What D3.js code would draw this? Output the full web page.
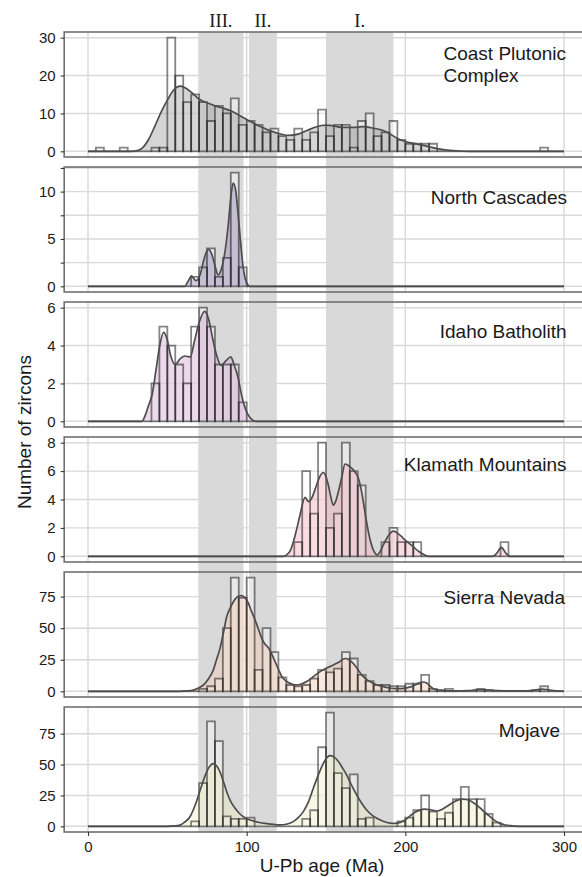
<!DOCTYPE html>
<html>
<head>
<meta charset="utf-8">
<script src="https://cdn.jsdelivr.net/npm/d3@7"></script>
<style>
  body { margin: 0; background: #fff; }
  svg { display: block; font-family: "Liberation Sans", Arial, sans-serif; }
</style>
</head>
<body>
<svg id="chart"></svg>
<script>
// ---- data ----
const regionNames = ["Coast Plutonic\nComplex", "North Cascades", "Idaho Batholith",
                     "Klamath Mountains", "Sierra Nevada", "Mojave"];

// zircon counts in 5 Ma bins, 0-300 Ma (10 bins per row = 50 Ma)
const countsCoast = [
  0, 1, 0, 0, 1, 0, 0, 0, 1, 1,
  30, 20, 13, 15, 13, 8, 12, 10, 14, 7,
  8, 7, 5, 6, 4, 3, 6, 3, 5, 11,
  4, 7, 7, 1, 8, 10, 4, 5, 8, 3,
  2, 2, 2, 2, 0, 0, 0, 0, 0, 0,
  0, 0, 0, 0, 0, 0, 0, 1, 0, 0];
const countsCascades = [
  0, 0, 0, 0, 0, 0, 0, 0, 0, 0,
  0, 0, 0, 1, 2, 4, 1, 3, 12, 2,
  0, 0, 0, 0, 0, 0, 0, 0, 0, 0,
  0, 0, 0, 0, 0, 0, 0, 0, 0, 0,
  0, 0, 0, 0, 0, 0, 0, 0, 0, 0,
  0, 0, 0, 0, 0, 0, 0, 0, 0, 0];
const countsIdaho = [
  0, 0, 0, 0, 0, 0, 0, 0, 2, 5,
  4, 3, 2, 5, 6, 5, 3, 3, 3, 1,
  0, 0, 0, 0, 0, 0, 0, 0, 0, 0,
  0, 0, 0, 0, 0, 0, 0, 0, 0, 0,
  0, 0, 0, 0, 0, 0, 0, 0, 0, 0,
  0, 0, 0, 0, 0, 0, 0, 0, 0, 0];
const countsKlamath = [
  0, 0, 0, 0, 0, 0, 0, 0, 0, 0,
  0, 0, 0, 0, 0, 0, 0, 0, 0, 0,
  0, 0, 0, 0, 0, 0, 1, 6, 3, 8,
  2, 3, 8, 6, 5, 0, 0, 1, 2, 1,
  1, 1, 0, 0, 0, 0, 0, 0, 0, 0,
  0, 0, 1, 0, 0, 0, 0, 0, 0, 0];
const countsSierra = [
  0, 0, 0, 0, 0, 0, 0, 0, 0, 0,
  0, 0, 0, 0, 2, 4, 10, 50, 90, 74,
  90, 17, 50, 31, 11, 5, 4, 5, 10, 17,
  15, 18, 31, 26, 13, 8, 5, 5, 4, 4,
  6, 6, 13, 2, 1, 2, 0, 0, 0, 2,
  1, 0, 0, 0, 0, 0, 1, 4, 0, 0];
const countsMojave = [
  0, 0, 0, 0, 0, 0, 0, 0, 0, 0,
  0, 0, 0, 4, 35, 85, 69, 8, 6, 6,
  7, 0, 0, 0, 0, 0, 0, 6, 13, 64,
  92, 43, 31, 42, 6, 7, 0, 0, 0, 4,
  7, 13, 25, 12, 6, 11, 22, 32, 22, 22,
  10, 3, 0, 0, 0, 0, 0, 0, 0, 0];

// density curves scaled to counts: [age, value]
const densCoast = [[0,0],[28,0],[31,0.2],[34,0.8],[38,3],[42,6.5],[46,10.3],[50,13.5],[54,16.2],[58,17.2],
  [62,16.6],[66,15.3],[70,13.8],[75,12.8],[80,12],[85,11.4],[90,10.7],[95,9.6],[100,8.4],[105,7.3],
  [110,6.3],[115,5.4],[120,4.7],[127,4.2],[133,4.6],[138,5.5],[144,6.5],[150,6.9],[155,6.7],[160,6.3],
  [167,6.3],[173,6.5],[180,6.1],[186,5.5],[190,4.7],[195,3.4],[200,2.6],[205,2.1],[210,1.7],[215,1.2],
  [220,0.7],[225,0.4],[232,0.15],[240,0],[300,0]];
const densCascades = [[0,0],[61,0],[63,0.5],[65.3,1.1],[68,0.6],[70.6,1.2],[73,2.8],[75.8,3.9],[78,3.4],
  [80,2.2],[82,1.2],[84,1.8],[86,3.3],[88.4,6.5],[90,9.4],[91.5,10.9],[93,10.2],[94.5,7.8],[96,5],
  [97.5,2.4],[99,0.85],[101,0.1],[102,0],[300,0]];
const densIdaho = [[0,0],[34,0],[36,0.3],[38,0.8],[40.4,1.4],[43,2.8],[45,3.9],[47.6,4.7],[50,4.3],[52,3.5],
  [55,3.0],[58,3.3],[61,3.45],[64.5,3.4],[67,4.2],[70,5.2],[73.5,5.8],[76,5.4],[78.5,4.4],[81,3.5],
  [83.8,2.95],[87,3.2],[90,3.4],[92,3.0],[94.6,2.3],[96.5,1.5],[98.4,0.86],[100.5,0.4],[103,0.12],
  [106,0],[300,0]];
const densKlamath = [[0,0],[123,0],[125.2,0.1],[127.5,0.4],[129.4,1],[131.5,1.9],[133.6,2.9],[136.8,4.15],
  [139,3.85],[141,4.1],[143.7,4.9],[146,5.6],[148.3,5.9],[150,5.6],[151.5,5],[153,4.2],[154.6,3.6],
  [156.2,3.9],[157.8,4.55],[160,5.6],[162,6.5],[164,6.4],[166.2,6.2],[168.5,5.9],[170.4,5.5],[172,4.8],
  [173.5,3.85],[175,2.8],[176.7,1.74],[178.3,0.95],[179.8,0.45],[182.3,0.1],[184,0.3],[186.1,0.8],
  [189,1.4],[192.4,1.78],[195.5,1.6],[198.7,1.27],[202,0.95],[205,0.68],[208,0.38],[211.3,0.14],
  [214.5,0],[255,0],[257.5,0.2],[260.5,0.63],[263.5,0.2],[266,0],[300,0]];
const densSierra = [[0,0],[58,0],[62,0.3],[66.4,1],[70,2.8],[72.7,5],[76,10],[79,17],[81,25],[83.2,34],
  [85.3,46],[87.4,59],[90,67],[92.7,73],[95,75.5],[96.9,75.8],[99,74],[101,70],[103,63.5],[105.3,56.5],
  [107.5,49],[109.5,42],[111.5,37.5],[113.7,34.5],[115.8,29.5],[117.9,23.5],[120,17.5],[122,12],
  [124.5,8.5],[127.3,6.3],[131.5,5],[134.5,5.8],[137.8,7.7],[142,11.5],[146.2,15.6],[150,18.2],
  [154.6,20.8],[158,23],[162,26],[164.5,25],[167.2,22],[170,17.5],[172.5,13],[175.5,9.5],[178.8,6.9],
  [182,5],[186.2,3.7],[190,2.6],[194,2.1],[198,2.2],[201.5,2.9],[205,4.3],[208,6.3],[211,7.4],
  [213.5,6.5],[215.5,4.2],[217.7,2],[220,1],[224,0.5],[230,0.3],[240,0.5],[247,1.4],[252,0.9],
  [258,0.5],[265,0.3],[275,0.3],[280,0.7],[286,1.8],[291,1],[296,0.3],[300,0.1]];
const densMojave = [[0,0],[50,0],[54,0.3],[58,1],[61,3.5],[64.3,7.8],[67.5,17],[70.6,29],[72.7,37],
  [74.8,44],[77,49],[79,50.7],[81,49],[83.2,44],[85.3,36.5],[87.4,28],[90,20],[92.7,14.6],[95.3,10.6],
  [97.9,7.8],[101,5.7],[104.2,4.3],[108,3.1],[112.6,2.2],[117,1.5],[121,1.1],[125,1.7],[129.4,3.8],
  [132.5,7],[135.7,11.9],[139,20],[142,30.8],[145,41],[148.3,51],[150.5,55.5],[152.5,57.2],[155,56.2],
  [157.8,52.4],[160.5,47],[163,41.6],[166,33.5],[169.3,25.4],[172.5,18.7],[175.6,13.2],[178.8,9.3],
  [182,6.5],[186,4.1],[190.4,2.6],[193.5,2.4],[196.7,3.2],[200,5.3],[203,8.5],[205,10.5],[208.5,12.9],
  [212.4,14],[216,13.4],[219.8,12.4],[223,13.6],[226,16],[230,19.3],[233,21.2],[236.6,22],[240,21.3],
  [243,19],[245,17.3],[249,12.6],[253.4,7.8],[256.5,4.6],[259.7,2.4],[263,1.1],[266,0.5],[272,0],[300,0]];

const yTicks = [[0, 10, 20, 30], [0, 2.5, 5, 7.5, 10, 12.5], [0, 2, 4, 6],
                [0, 2, 4, 6, 8], [0, 25, 50, 75], [0, 25, 50, 75]];
const xTicks = [0, 100, 200, 300];

// magmatic flare-up windows (Ma)
const periodNames = ["III.", "II.", "I."];
const periodStart = [69.5, 101.5, 150];
const periodEnd = [98, 119, 192.5];

const binWidth = 5;
const countsList = [countsCoast, countsCascades, countsIdaho, countsKlamath, countsSierra, countsMojave];
const densList = [densCoast, densCascades, densIdaho, densKlamath, densSierra, densMojave];
const fillColors = ["#9a9a9a", "#9483b6", "#d2a6d2", "#f0a9ba", "#f3c6ad", "#ecebc4"];

// ---- layout ----
const W = 582, H = 877;
const plotL = 64.2, plotR = 587.8;
const top0 = 32, panelH = 125, step = 135;
const labelRight = [566, 567, 566.5, 566.5, 565, 560];
const labelDy = [28, 37.3, 36.3, 33.7, 32.3, 30.3];

const svg = d3.select("#chart").attr("width", W).attr("height", H);

const x = d3.scaleLinear().domain([-15, 315]).range([plotL, plotR]);

const gridLayer = svg.append("g");
const shadeLayer = svg.append("g");
const markLayer = svg.append("g");

const bottom = top0 + step * 5 + panelH;

regionNames.forEach((name, i) => {
  const counts = countsList[i];
  const top = top0 + step * i;
  const maxC = d3.max(counts);
  const y = d3.scaleLinear()
              .domain([-0.05 * maxC, 1.05 * maxC])
              .range([top + panelH, top]);

  // grid
  gridLayer.selectAll(null)
    .data(yTicks[i]).enter().append("line")
    .attr("x1", plotL).attr("x2", plotR)
    .attr("y1", d => y(d)).attr("y2", d => y(d))
    .attr("stroke", "#d9d9d9").attr("stroke-width", 1.4);
  gridLayer.selectAll(null)
    .data(xTicks).enter().append("line")
    .attr("x1", d => x(d)).attr("x2", d => x(d))
    .attr("y1", top).attr("y2", top + panelH)
    .attr("stroke", "#d9d9d9").attr("stroke-width", 1.4);

  const g = markLayer.append("g");
  const bins = counts.map((c, k) => ({ x0: k * binWidth, x1: (k + 1) * binWidth, c }));
  const barPath = d => `M${x(d.x0)},${y(0)}V${y(d.c)}H${x(d.x1)}V${y(0)}Z`;

  g.selectAll(".barfill")
    .data(bins.filter(d => d.c > 0)).enter().append("path")
    .attr("d", barPath)
    .attr("fill", "#fff").attr("fill-opacity", 0.4).attr("stroke", "none");

  const area = d3.area()
                 .x(d => x(d[0]))
                 .y0(y(0))
                 .y1(d => y(d[1]))
                 .curve(d3.curveMonotoneX);
  const line = d3.line()
                 .x(d => x(d[0]))
                 .y(d => y(d[1]))
                 .curve(d3.curveMonotoneX);

  g.append("path")
   .datum(densList[i])
   .attr("d", area)
   .attr("fill", fillColors[i])
   .attr("fill-opacity", 0.42);

  g.selectAll(".barline")
    .data(bins).enter().append("path")
    .attr("d", barPath)
    .attr("fill", "none")
    .attr("stroke", "#000").attr("stroke-opacity", 0.48)
    .attr("stroke-width", 1.8);

  g.append("path")
   .datum(densList[i])
   .attr("d", line)
   .attr("fill", "none")
   .attr("stroke", "#4d4d4d")
   .attr("stroke-width", 1.7);

  // border
  g.append("rect")
   .attr("x", plotL).attr("y", top)
   .attr("width", plotR - plotL).attr("height", panelH)
   .attr("fill", "none").attr("stroke", "#707070").attr("stroke-width", 1.6);

  // y axis
  const yAxis = g.append("g")
    .attr("transform", `translate(${plotL},0)`)
    .call(d3.axisLeft(y).tickValues(yTicks[i])
            .tickFormat(d => Number.isInteger(d) ? d : "")
            .tickSize(3.5).tickPadding(5));
  yAxis.select(".domain").remove();
  yAxis.selectAll("line").attr("stroke", "#333").attr("stroke-width", 1.1);
  yAxis.selectAll("text").attr("fill", "#1a1a1a").style("font-size", "15px")
       .style("font-family", "'Liberation Sans', Arial, sans-serif");

  // region label
  const lines = name.split("\n");
  const lab = g.append("text")
    .attr("y", top + labelDy[i])
    .attr("fill", "#1a1a1a")
    .style("font-size", "19px");
  lines.forEach((t, k) => {
    lab.append("tspan").attr("dy", k === 0 ? 0 : 21.7).text(t);
  });
  if (lines.length > 1) {
    const widths = lab.selectAll("tspan").nodes().map(n => n.getComputedTextLength());
    const x0 = labelRight[i] - widths[0];
    lab.selectAll("tspan").attr("x", x0);
  } else {
    lab.attr("x", labelRight[i]).attr("text-anchor", "end");
  }
});

// shaded windows across all panels
shadeLayer.selectAll("rect")
  .data(periodStart).enter().append("rect")
  .attr("x", d => x(d))
  .attr("width", (d, k) => x(periodEnd[k]) - x(d))
  .attr("y", top0).attr("height", bottom - top0)
  .attr("fill", "#d9d9d9");

svg.selectAll(".period")
  .data(periodNames).enter().append("text")
  .attr("x", (d, k) => x((periodStart[k] + periodEnd[k]) / 2))
  .attr("y", 26.7)
  .attr("text-anchor", "middle")
  .attr("fill", "#1a1a1a")
  .style("font-family", "'Liberation Serif', 'Times New Roman', serif")
  .style("font-size", "18.5px")
  .text(d => d);

// x axis
const xAxis = svg.append("g")
  .attr("transform", `translate(0,${bottom})`)
  .call(d3.axisBottom(x).tickValues(xTicks).tickSize(4).tickPadding(5));
xAxis.select(".domain").remove();
xAxis.selectAll("line").attr("stroke", "#333").attr("stroke-width", 1.1);
xAxis.selectAll("text").attr("fill", "#1a1a1a").style("font-size", "15px")
     .style("font-family", "'Liberation Sans', Arial, sans-serif");

svg.append("text")
   .attr("x", (plotL + 580) / 2)
   .attr("y", 872)
   .attr("text-anchor", "middle")
   .attr("fill", "#1a1a1a")
   .style("font-size", "19px")
   .text("U-Pb age (Ma)");

svg.append("text")
   .attr("transform", `translate(31,${(top0 + bottom) / 2}) rotate(-90)`)
   .attr("text-anchor", "middle")
   .attr("fill", "#1a1a1a")
   .style("font-size", "19px")
   .text("Number of zircons");
</script>
</body>
</html>
